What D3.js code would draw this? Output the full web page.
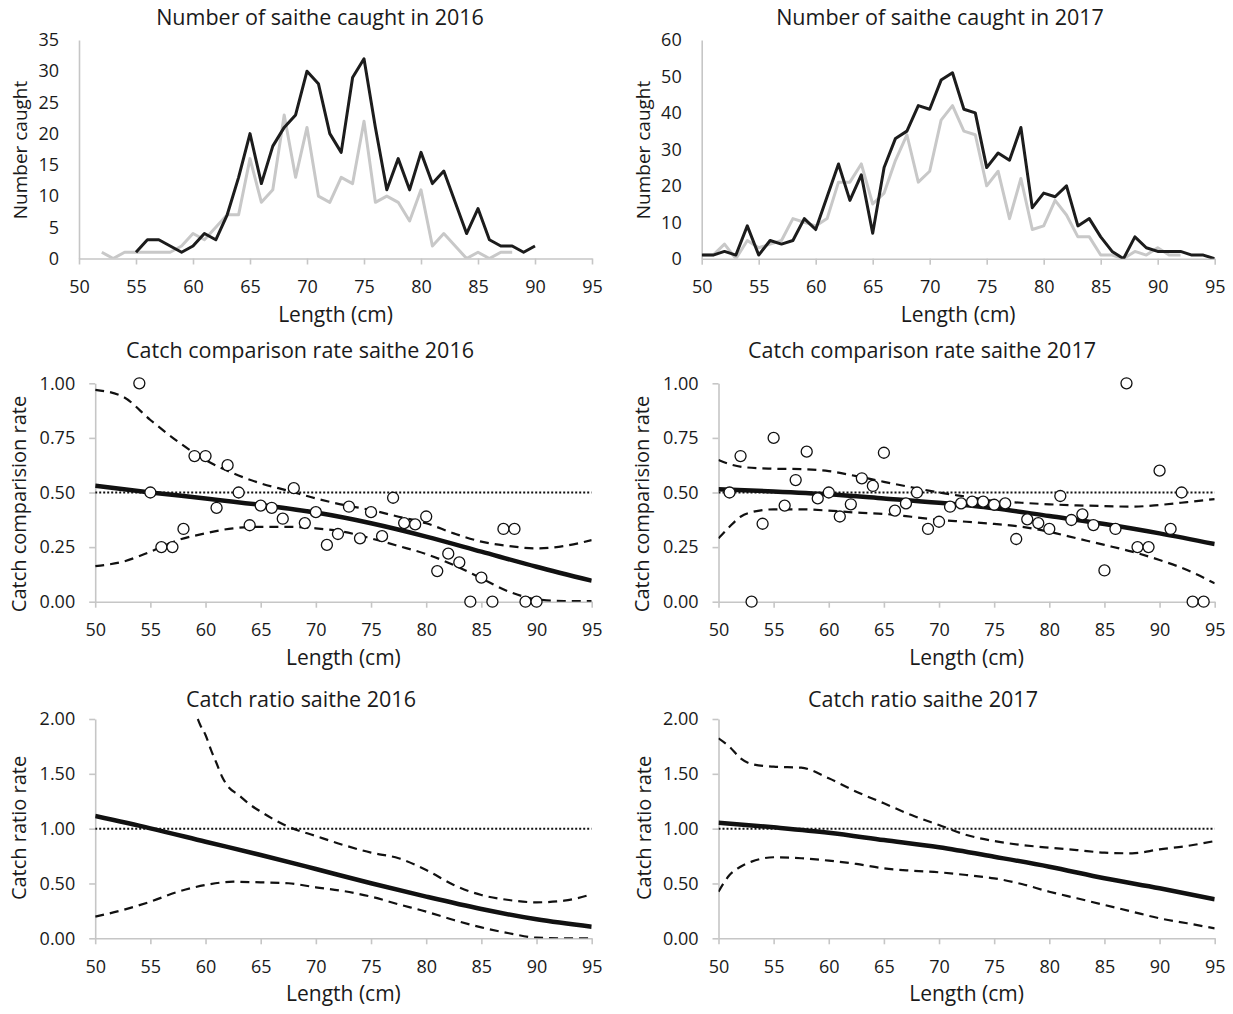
<!DOCTYPE html>
<html>
<head>
<meta charset="utf-8">
<script src="https://cdn.jsdelivr.net/npm/d3@7"></script>
<style>
    body { margin: 0; background: #fff; }
    text { font-family: "Open Sans", sans-serif; fill: #1a1a1a; }
</style>
</head>
<body>
<svg id="chart" width="1233" height="1014"></svg>
<script>
// ---- data ----
var lengthTicks = [50, 55, 60, 65, 70, 75, 80, 85, 90, 95];
var countTicks2016 = [0, 5, 10, 15, 20, 25, 30, 35];
var countTicks2017 = [0, 10, 20, 30, 40, 50, 60];
var rateTicks = [0, 0.25, 0.5, 0.75, 1];
var ratioTicks = [0, 0.5, 1, 1.5, 2];

// numbers caught per length class, [length, count]
var caught2016Dark = [[55,1],[56,3],[57,3],[58,2],[59,1],[60,2],[61,4],[62,3],[63,7],[64,13],[65,20],[66,12],[67,18],[68,21],[69,23],[70,30],[71,28],[72,20],[73,17],[74,29],[75,32],[76,21],[77,11],[78,16],[79,11],[80,17],[81,12],[82,14],[83,9],[84,4],[85,8],[86,3],[87,2],[88,2],[89,1],[90,2]];
var caught2016Light = [[52,1],[53,0],[54,1],[55,1],[56,1],[57,1],[58,1],[59,2],[60,4],[61,3],[62,5],[63,7],[64,7],[65,16],[66,9],[67,11],[68,23],[69,13],[70,21],[71,10],[72,9],[73,13],[74,12],[75,22],[76,9],[77,10],[78,9],[79,6],[80,11],[81,2],[82,4],[83,2],[84,0],[85,1],[86,0],[87,1],[88,1]];
var caught2017Dark = [[50,1],[51,1],[52,2],[53,1],[54,9],[55,1],[56,5],[57,4],[58,5],[59,11],[60,8],[61,17],[62,26],[63,16],[64,23],[65,7],[66,25],[67,33],[68,35],[69,42],[70,41],[71,49],[72,51],[73,41],[74,40],[75,25],[76,29],[77,27],[78,36],[79,14],[80,18],[81,17],[82,20],[83,9],[84,11],[85,6],[86,2],[87,0],[88,6],[89,3],[90,2],[91,2],[92,2],[93,1],[94,1],[95,0]];
var caught2017Light = [[50,1],[51,1],[52,4],[53,0],[54,5],[55,3],[56,4],[57,5],[58,11],[59,10],[60,9],[61,11],[62,21],[63,21],[64,26],[65,15],[66,18],[67,27],[68,34],[69,21],[70,24],[71,38],[72,42],[73,35],[74,34],[75,20],[76,24],[77,11],[78,22],[79,8],[80,9],[81,16],[82,12],[83,6],[84,6],[85,1],[86,1],[87,0],[88,2],[89,1],[90,3],[91,1],[92,1]];

// observed catch comparison rate, [length, rate]
var rateObs2016 = [[54,1],[55,0.5],[56,0.25],[57,0.25],[58,0.333],[59,0.667],[60,0.667],[61,0.43],[62,0.625],[63,0.5],[64,0.35],[65,0.44],[66,0.43],[67,0.38],[68,0.52],[69,0.36],[70,0.41],[71,0.26],[72,0.31],[73,0.435],[74,0.29],[75,0.41],[76,0.3],[77,0.476],[78,0.36],[79,0.354],[80,0.39],[81,0.14],[82,0.22],[83,0.18],[84,0],[85,0.11],[86,0],[87,0.333],[88,0.333],[89,0],[90,0]];
var rateObs2017 = [[51,0.5],[52,0.667],[53,0],[54,0.357],[55,0.75],[56,0.44],[57,0.557],[58,0.687],[59,0.473],[60,0.5],[61,0.39],[62,0.446],[63,0.565],[64,0.53],[65,0.682],[66,0.417],[67,0.45],[68,0.5],[69,0.333],[70,0.366],[71,0.435],[72,0.45],[73,0.458],[74,0.458],[75,0.444],[76,0.45],[77,0.287],[78,0.377],[79,0.36],[80,0.333],[81,0.484],[82,0.374],[83,0.4],[84,0.351],[85,0.143],[86,0.333],[87,1],[88,0.25],[89,0.25],[90,0.6],[91,0.333],[92,0.5],[93,0],[94,0]];

// fitted catch comparison rate with confidence bands
var rateFit2016 = [[50,0.531],[55,0.5],[60,0.473],[65,0.443],[70,0.408],[75,0.359],[80,0.298],[85,0.229],[90,0.16],[95,0.096]];
var rateUpper2016 = [[50,0.97],[52.5,0.939],[55,0.832],[57.5,0.733],[60,0.649],[62.5,0.588],[65,0.542],[67.5,0.508],[70,0.473],[72.5,0.443],[75,0.42],[77.5,0.389],[80,0.359],[82.5,0.313],[85,0.275],[87.5,0.255],[90,0.244],[92.5,0.255],[95,0.282]];
var rateLower2016 = [[50,0.163],[52.5,0.183],[55,0.229],[57.5,0.282],[60,0.313],[62.5,0.336],[65,0.343],[67.5,0.343],[70,0.336],[72.5,0.32],[75,0.29],[77.5,0.255],[80,0.218],[82.5,0.168],[85,0.107],[87.5,0.046],[90,0.011],[92.5,0.003],[95,0.003]];
var rateFit2017 = [[50,0.515],[55,0.505],[60,0.492],[65,0.473],[70,0.453],[75,0.428],[80,0.392],[85,0.356],[90,0.313],[95,0.264]];
var rateUpper2017 = [[50,0.649],[51,0.63],[52.5,0.615],[55,0.609],[57.5,0.607],[60,0.598],[62.5,0.575],[65,0.549],[67.5,0.524],[70,0.5],[72.5,0.481],[75,0.462],[77.5,0.453],[80,0.446],[82.5,0.441],[85,0.438],[87.5,0.435],[90,0.443],[92.5,0.456],[95,0.47]];
var rateLower2017 = [[50,0.29],[51,0.343],[52,0.389],[53,0.41],[55,0.423],[57.5,0.423],[60,0.417],[62.5,0.408],[65,0.402],[67.5,0.389],[70,0.374],[72.5,0.366],[75,0.356],[77.5,0.343],[80,0.32],[82.5,0.29],[85,0.26],[87.5,0.229],[90,0.191],[92.5,0.145],[95,0.084]];

// fitted catch ratio with confidence bands
var ratioFit2016 = [[50,1.115],[55,1.003],[60,0.881],[65,0.76],[70,0.632],[75,0.502],[80,0.38],[85,0.267],[90,0.173],[95,0.106]];
var ratioUpper2016 = [[59.3,2.0],[59.5,1.95],[60,1.854],[60.5,1.717],[61,1.596],[61.5,1.474],[62,1.389],[63,1.307],[64,1.222],[65,1.155],[67.5,1.018],[70,0.933],[72.5,0.851],[75,0.781],[77.5,0.73],[80,0.623],[82.5,0.486],[85,0.395],[87.5,0.349],[90,0.328],[92.5,0.343],[95,0.401]];
var ratioLower2016 = [[50,0.197],[52.5,0.258],[55,0.334],[57.5,0.425],[60,0.486],[62.5,0.516],[65,0.51],[67.5,0.502],[70,0.465],[72.5,0.431],[75,0.38],[77.5,0.31],[80,0.243],[82.5,0.167],[85,0.1],[87.5,0.046],[90,0.006],[92.5,0],[95,0]];
var ratioFit2017 = [[50,1.054],[55,1.012],[60,0.963],[65,0.896],[70,0.83],[75,0.744],[80,0.653],[85,0.547],[90,0.456],[95,0.356]];
var ratioUpper2017 = [[50,1.824],[51,1.747],[52,1.641],[53,1.59],[55,1.565],[57.5,1.556],[60,1.459],[62.5,1.337],[65,1.231],[67.5,1.124],[70,1.033],[72.5,0.942],[75,0.887],[77.5,0.851],[80,0.826],[82.5,0.805],[85,0.781],[87.5,0.775],[90,0.811],[92.5,0.842],[95,0.887]];
var ratioLower2017 = [[50,0.425],[51,0.577],[52,0.653],[53,0.699],[55,0.739],[57.5,0.73],[60,0.708],[62.5,0.678],[65,0.638],[67.5,0.617],[70,0.602],[72.5,0.577],[75,0.547],[77.5,0.495],[80,0.425],[82.5,0.365],[85,0.304],[87.5,0.243],[90,0.182],[92.5,0.137],[95,0.091]];

// ---- layout ----
var svg = d3.select("#chart");
var axisColor = "#c6c6c6";

function drawPanel(p) {
    var x = d3.scaleLinear().domain([50, 95]).range([p.left, p.right]);
    var y = d3.scaleLinear().domain([0, p.ymax]).range([p.bottom, p.top]);
    var g = svg.append("g");

    // x axis
    var xa = g.append("g")
        .attr("transform", "translate(0," + p.bottom + ")")
        .call(d3.axisBottom(x).tickValues(lengthTicks).tickSize(6).tickSizeOuter(0).tickPadding(16).tickFormat(d3.format("d")));
    // y axis
    var ya = g.append("g")
        .attr("transform", "translate(" + p.left + ",0)")
        .call(d3.axisLeft(y).tickValues(p.yticks).tickSize(p.ytick).tickSizeOuter(0)
            .tickPadding(20 - p.ytick).tickFormat(p.yfmt));
    [xa, ya].forEach(function (a) {
        a.select(".domain").attr("stroke", axisColor).attr("stroke-width", 1.6);
        a.selectAll(".tick line").attr("stroke", axisColor).attr("stroke-width", 1.6);
        a.selectAll(".tick text").style("font-size", "18px").style("font-family", "'Open Sans', sans-serif").attr("fill", "#1a1a1a");
    });

    // clip to plot area
    var clipId = "clip" + p.id;
    svg.append("clipPath").attr("id", clipId)
        .append("rect").attr("x", p.left).attr("y", p.top - 2)
        .attr("width", p.right - p.left).attr("height", p.bottom - p.top + 2);
    var plot = g.append("g").attr("clip-path", "url(#" + clipId + ")");

    var straight = d3.line().x(d => x(d[0])).y(d => y(d[1]));
    var smooth = d3.line().x(d => x(d[0])).y(d => y(d[1])).curve(d3.curveMonotoneX);

    if (p.counts) {
        plot.append("path").datum(p.counts[1])
            .attr("fill", "none").attr("stroke", "#c8c8c8").attr("stroke-width", 3)
            .attr("stroke-linejoin", "round").attr("d", straight);
        plot.append("path").datum(p.counts[0])
            .attr("fill", "none").attr("stroke", "#1c1c1c").attr("stroke-width", 3)
            .attr("stroke-linejoin", "round").attr("d", straight);
    }
    if (p.fit) {
        // reference line
        plot.append("path").datum([[50, p.ref], [95, p.ref]])
            .attr("fill", "none").attr("stroke", "#111").attr("stroke-width", 2)
            .attr("stroke-dasharray", "2,2").attr("d", straight);
        [p.upper, p.lower].forEach(function (band) {
            plot.append("path").datum(band)
                .attr("fill", "none").attr("stroke", "#111").attr("stroke-width", 2.2)
                .attr("stroke-dasharray", "9,6").attr("d", smooth);
        });
        plot.append("path").datum(p.fit)
            .attr("fill", "none").attr("stroke", "#111").attr("stroke-width", 4.5)
            .attr("d", smooth);
    }
    if (p.obs) {
        g.append("g").selectAll("circle")
            .data(p.obs)
            .join("circle")
            .attr("cx", d => x(d[0]))
            .attr("cy", d => y(d[1]))
            .attr("r", 5.5)
            .attr("fill", "#fff")
            .attr("stroke", "#111")
            .attr("stroke-width", 1.3);
    }

    // titles
    g.append("text").attr("x", p.titleX).attr("y", p.titleY)
        .attr("text-anchor", "middle").style("font-size", "21.5px").text(p.title);
    g.append("text").attr("x", (p.left + p.right) / 2).attr("y", p.bottom + 63)
        .attr("text-anchor", "middle").style("font-size", "21px").text("Length (cm)");
    g.append("text")
        .attr("transform", "translate(" + p.ylabX + "," + p.ylabY + ") rotate(-90)")
        .attr("text-anchor", "middle").attr("dominant-baseline", "central")
        .style("font-size", p.ylabSize).text(p.ylabel);
}

var f0 = d3.format("d"), f2 = d3.format(".2f");

drawPanel({id: 1, left: 79, right: 592, top: 40, bottom: 258.5, ymax: 35, yticks: countTicks2016, ytick: 0, yfmt: f0,
    counts: [caught2016Dark, caught2016Light],
    title: "Number of saithe caught in 2016", titleX: 320, titleY: 25,
    ylabel: "Number caught", ylabX: 20, ylabY: 150, ylabSize: "19px"});
drawPanel({id: 2, left: 701.7, right: 1214.7, top: 40, bottom: 258.7, ymax: 60, yticks: countTicks2017, ytick: 0, yfmt: f0,
    counts: [caught2017Dark, caught2017Light],
    title: "Number of saithe caught in 2017", titleX: 940, titleY: 25,
    ylabel: "Number caught", ylabX: 643, ylabY: 150, ylabSize: "19px"});
drawPanel({id: 3, left: 95.2, right: 591.7, top: 383.3, bottom: 601.7, ymax: 1, yticks: rateTicks, ytick: 6, yfmt: f2,
    obs: rateObs2016, fit: rateFit2016, upper: rateUpper2016, lower: rateLower2016, ref: 0.5,
    title: "Catch comparison rate saithe 2016", titleX: 300, titleY: 358,
    ylabel: "Catch comparision rate", ylabX: 18, ylabY: 504, ylabSize: "20px"});
drawPanel({id: 4, left: 718.5, right: 1214.7, top: 383.3, bottom: 601.7, ymax: 1, yticks: rateTicks, ytick: 6, yfmt: f2,
    obs: rateObs2017, fit: rateFit2017, upper: rateUpper2017, lower: rateLower2017, ref: 0.5,
    title: "Catch comparison rate saithe 2017", titleX: 922, titleY: 358,
    ylabel: "Catch comparision rate", ylabX: 641, ylabY: 504, ylabSize: "20px"});
drawPanel({id: 5, left: 95.2, right: 591.7, top: 719, bottom: 938.3, ymax: 2, yticks: ratioTicks, ytick: 6, yfmt: f2,
    fit: ratioFit2016, upper: ratioUpper2016, lower: ratioLower2016, ref: 1,
    title: "Catch ratio saithe 2016", titleX: 301, titleY: 707,
    ylabel: "Catch ratio rate", ylabX: 18, ylabY: 828, ylabSize: "20px"});
drawPanel({id: 6, left: 718.5, right: 1214.7, top: 719, bottom: 938.3, ymax: 2, yticks: ratioTicks, ytick: 6, yfmt: f2,
    fit: ratioFit2017, upper: ratioUpper2017, lower: ratioLower2017, ref: 1,
    title: "Catch ratio saithe 2017", titleX: 923, titleY: 707,
    ylabel: "Catch ratio rate", ylabX: 643, ylabY: 828, ylabSize: "20px"});
</script>
</body>
</html>
